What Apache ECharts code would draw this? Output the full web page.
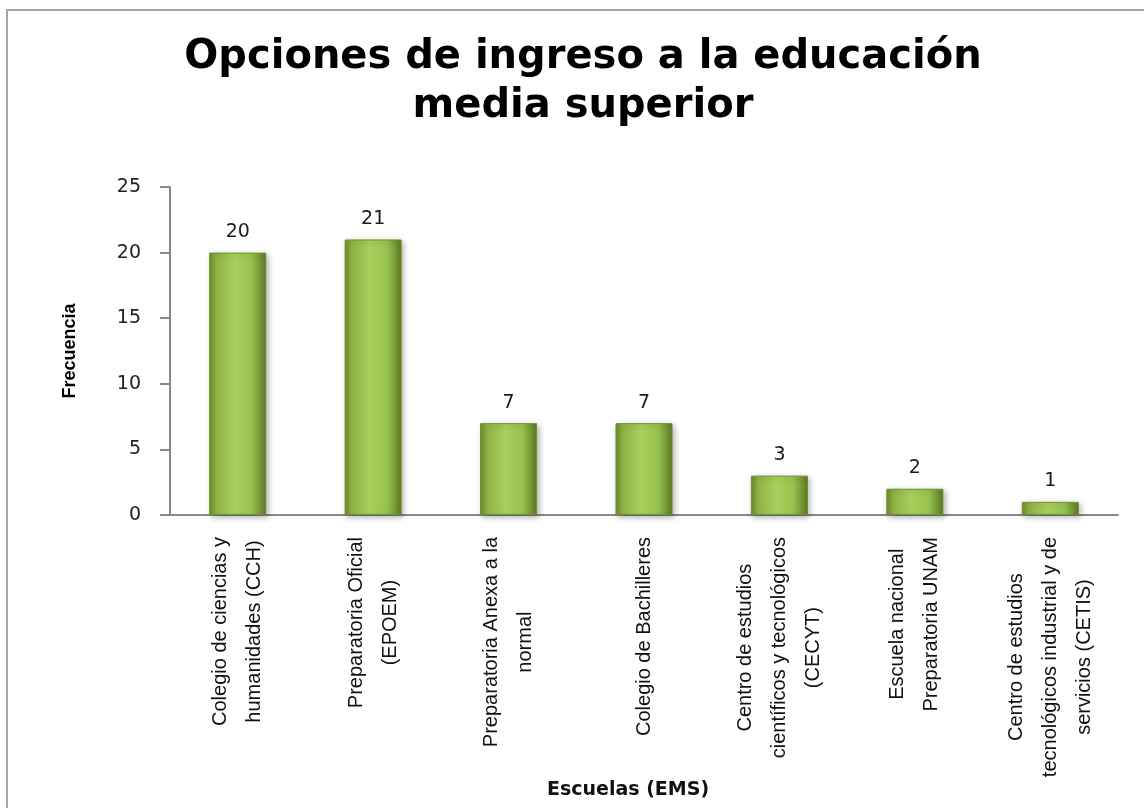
<!DOCTYPE html>
<html>
<head>
<meta charset="utf-8">
<script src="https://cdn.jsdelivr.net/npm/echarts@6/dist/echarts.min.js"></script>
<style>
    html, body { margin: 0; padding: 0; background: #fff; }
    #frame { position: absolute; left: 6px; top: 9px; width: 1150px; height: 810px; border: 2px solid #a6a6a6; box-sizing: border-box; }
    #chart { width: 1144px; height: 808px; }
</style>
</head>
<body>
<div id="frame"></div>
<div id="chart"></div>
<script>
// datos de la gráfica
const escuelas = [
    'Colegio de ciencias y\nhumanidades (CCH)',
    'Preparatoria Oficial\n(EPOEM)',
    'Preparatoria Anexa a la\nnormal',
    'Colegio de Bachilleres',
    'Centro de estudios\ncientíficos y tecnológicos\n(CECYT)',
    'Escuela nacional\nPreparatoria UNAM',
    'Centro de estudios\ntecnológicos industrial y de\nservicios (CETIS)'
]
const frecuencia = [20, 21, 7, 7, 3, 2, 1]
const yTicks = [0, 5, 10, 15, 20, 25]

const chart = echarts.init(document.getElementById('chart'))

const barColor = new echarts.graphic.LinearGradient(0, 0, 1, 0, [
    {offset: 0, color: '#6d8b2a'},
    {offset: 0.12, color: '#8fb245'},
    {offset: 0.45, color: '#a8d15c'},
    {offset: 0.75, color: '#97c24d'},
    {offset: 1, color: '#5c7823'}
])

chart.setOption({
    animation: false,
    title: {
        text: 'Opciones de ingreso a la educación\nmedia superior',
        left: 578,
        top: 28,
        textAlign: 'center',
        textStyle: {
            fontFamily: 'DejaVu Sans',
            fontWeight: 'bold',
            fontSize: 40,
            lineHeight: 49,
            color: '#000'
        }
    },
    grid: {
        left: 170,
        right: 26,
        top: 187,
        bottom: 293,
        containLabel: false
    },
    xAxis: {
        type: 'category',
        data: escuelas,
        name: 'Escuelas (EMS)',
        nameLocation: 'middle',
        nameGap: 266,
        nameTextStyle: {
            fontFamily: 'DejaVu Sans',
            fontWeight: 'bold',
            fontSize: 19,
            color: '#111',
            padding: [0, 32, 0, 0]
        },
        axisLine: {lineStyle: {color: '#888', width: 2}},
        axisTick: {show: false},
        axisLabel: {
            rotate: 90,
            interval: 0,
            margin: 22,
            align: 'right',
            verticalAlign: 'middle',
            formatter: v => v.split('\n').map(s => '{a|' + s + '}').join('\n'),
            rich: {
                a: {
                    align: 'center',
                    fontFamily: 'Liberation Sans, Arial',
                    fontSize: 20,
                    lineHeight: 34,
                    color: '#111'
                }
            }
        }
    },
    yAxis: {
        type: 'value',
        min: yTicks[0],
        max: yTicks[yTicks.length - 1],
        interval: 5,
        name: 'Frecuencia',
        nameLocation: 'middle',
        nameGap: 91,
        nameRotate: 90,
        nameTextStyle: {
            fontFamily: 'Liberation Sans, Arial',
            fontWeight: 'bold',
            fontSize: 18,
            color: '#000'
        },
        axisLine: {show: true, lineStyle: {color: '#888', width: 2}},
        axisTick: {show: true, length: 10, lineStyle: {color: '#888', width: 2}},
        splitLine: {show: false},
        axisLabel: {
            margin: 29,
            fontFamily: 'DejaVu Sans',
            fontSize: 19,
            color: '#222'
        }
    },
    series: [{
        type: 'bar',
        data: frecuencia,
        barWidth: 57,
        itemStyle: {
            color: barColor,
            borderColor: '#6f8f2d',
            borderWidth: 1,
            shadowColor: 'rgba(0,0,0,0.3)',
            shadowBlur: 6,
            shadowOffsetX: 2,
            shadowOffsetY: 2
        },
        label: {
            show: true,
            position: 'top',
            distance: 11,
            fontFamily: 'DejaVu Sans',
            fontSize: 19,
            color: '#1a1a1a'
        }
    }]
})
</script>
</body>
</html>
